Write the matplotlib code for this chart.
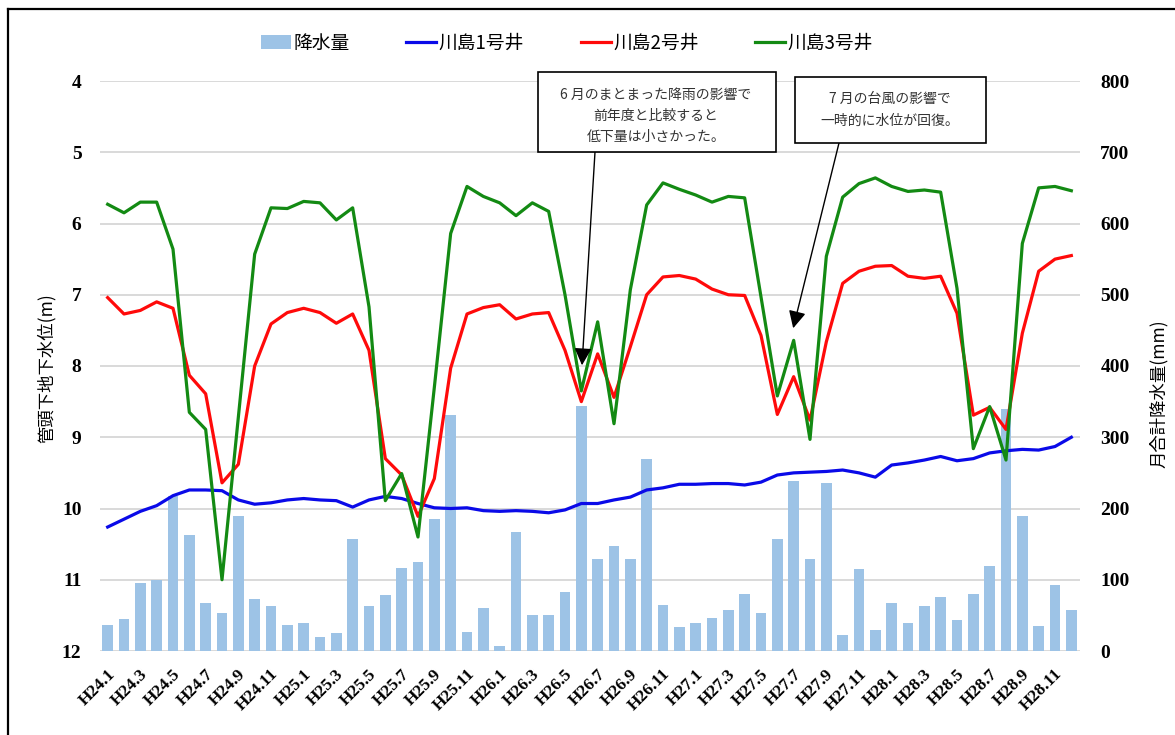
import matplotlib
matplotlib.use('Agg')
import matplotlib.pyplot as plt
from matplotlib.patches import Rectangle, Patch
from matplotlib.lines import Line2D
from matplotlib.transforms import ScaledTranslation
import numpy as np

# ---------------- data ----------------
months = ["H24.1", "H24.2", "H24.3", "H24.4", "H24.5", "H24.6", "H24.7", "H24.8", "H24.9", "H24.10", "H24.11", "H24.12",
          "H25.1", "H25.2", "H25.3", "H25.4", "H25.5", "H25.6", "H25.7", "H25.8", "H25.9", "H25.10", "H25.11", "H25.12",
          "H26.1", "H26.2", "H26.3", "H26.4", "H26.5", "H26.6", "H26.7", "H26.8", "H26.9", "H26.10", "H26.11", "H26.12",
          "H27.1", "H27.2", "H27.3", "H27.4", "H27.5", "H27.6", "H27.7", "H27.8", "H27.9", "H27.10", "H27.11", "H27.12",
          "H28.1", "H28.2", "H28.3", "H28.4", "H28.5", "H28.6", "H28.7", "H28.8", "H28.9", "H28.10", "H28.11", "H28.12"]

rain = [36, 45, 95, 100, 217, 163, 68, 53, 189, 73, 63, 36,
        39, 20, 25, 157, 63, 78, 116, 125, 185, 331, 27, 61,
        7.5, 167, 51, 51, 83, 344, 129, 148, 129, 270, 65, 34,
        39, 46, 58, 80, 53, 157, 239, 129, 236, 23, 115, 30,
        68, 40, 63, 76, 44, 80, 120, 340, 189, 35, 93, 58]

well1 = [10.26, 10.15, 10.04, 9.96, 9.82, 9.74, 9.74, 9.75, 9.88, 9.94, 9.92, 9.88,
         9.86, 9.88, 9.89, 9.98, 9.88, 9.83, 9.86, 9.93, 9.99, 10.00, 9.99, 10.03,
         10.04, 10.03, 10.04, 10.06, 10.02, 9.93, 9.93, 9.88, 9.84, 9.74, 9.71, 9.66,
         9.66, 9.65, 9.65, 9.67, 9.63, 9.53, 9.50, 9.49, 9.48, 9.46, 9.50, 9.56,
         9.39, 9.36, 9.32, 9.27, 9.33, 9.30, 9.22, 9.19, 9.17, 9.18, 9.13, 9.00]

well2 = [7.04, 7.27, 7.22, 7.10, 7.19, 8.13, 8.39, 9.64, 9.38, 8.00, 7.41, 7.25,
         7.19, 7.25, 7.40, 7.27, 7.78, 9.30, 9.53, 10.11, 9.58, 8.03, 7.27, 7.18,
         7.14, 7.34, 7.27, 7.25, 7.78, 8.50, 7.83, 8.44, 7.73, 7.00, 6.75, 6.73,
         6.78, 6.92, 7.00, 7.01, 7.57, 8.68, 8.15, 8.76, 7.66, 6.84, 6.67, 6.60,
         6.59, 6.74, 6.77, 6.74, 7.26, 8.69, 8.58, 8.89, 7.54, 6.67, 6.50, 6.45]

well3 = [5.73, 5.85, 5.70, 5.70, 6.36, 8.65, 8.89, 11.00, 8.72, 6.43, 5.78, 5.79,
         5.69, 5.71, 5.95, 5.78, 7.17, 9.89, 9.51, 10.40, 8.30, 6.14, 5.48, 5.62,
         5.71, 5.89, 5.71, 5.83, 7.00, 8.35, 7.38, 8.81, 6.93, 5.74, 5.43, 5.52,
         5.60, 5.70, 5.62, 5.64, 7.03, 8.42, 7.64, 9.03, 6.46, 5.63, 5.44, 5.36,
         5.48, 5.55, 5.53, 5.56, 6.91, 9.16, 8.57, 9.32, 6.28, 5.50, 5.48, 5.54]

series_names = ["降水量", "川島1号井", "川島2号井", "川島3号井"]
left_ticks = [4, 5, 6, 7, 8, 9, 10, 11, 12]
right_ticks = [0, 100, 200, 300, 400, 500, 600, 700, 800]
left_label = "管頭下地下水位(m)"
right_label = "月合計降水量(mm)"
note1 = ["6 月のまとまった降雨の影響で", "前年度と比較すると", "低下量は小さかった。"]
note2 = ["7 月の台風の影響で", "一時的に水位が回復。"]

# ---------------- style ----------------
plt.rcParams['font.family'] = ['Noto Sans CJK JP', 'DejaVu Sans']
C_BAR = '#9DC3E6'
C_B = '#0A0AE8'
C_R = '#FF0A0A'
C_G = '#138A13'
GRID = '#D9D9D9'
SERIF = 'Liberation Serif'

W, H = 1175, 735
fig = plt.figure(figsize=(W / 100, H / 100), dpi=100)
fig.patch.set_facecolor('white')

L, R, T, B = 99.5, 1079.5, 81, 651
ax = fig.add_axes([L / W, 1 - B / H, (R - L) / W, (B - T) / H])
ax2 = ax.twinx()
ax.set_zorder(ax2.get_zorder() + 1)
ax.patch.set_visible(False)

x = np.arange(len(months))

# bars on the right axis
ax2.set_axisbelow(True)
ax2.bar(x, rain, width=0.66, color=C_BAR, zorder=2)
ax2.set_ylim(0, 800)
ax2.set_yticks(right_ticks)
ax2.yaxis.grid(True, color=GRID, lw=1.4, zorder=0)

# lines on the left axis (inverted)
ax.plot(x, well1, color=C_B, lw=2.3, solid_joinstyle='round')
ax.plot(x, well2, color=C_R, lw=2.3, solid_joinstyle='round')
ax.plot(x, well3, color=C_G, lw=2.3, solid_joinstyle='round')
ax.set_ylim(12, 4)
ax.set_yticks(left_ticks)
ax.set_xlim(-0.5, len(months) - 0.5)

for a in (ax, ax2):
    for s in a.spines.values():
        s.set_visible(False)
    a.tick_params(length=0)

ax.set_xticks(x[::2])
ax.set_xticklabels(months[::2], rotation=45, ha='right', va='center',
                   rotation_mode='anchor', fontfamily=SERIF, fontweight='bold', fontsize=12.5)
ax.tick_params(axis='x', pad=15)
off = ScaledTranslation(5 / 100, 0, fig.dpi_scale_trans)
for lab in ax.get_xticklabels():
    lab.set_transform(lab.get_transform() + off)

ax.tick_params(axis='y', pad=13)
for lab in ax.get_yticklabels():
    lab.set_fontfamily(SERIF)
    lab.set_fontweight('bold')
    lab.set_fontsize(14)
ax2.tick_params(axis='y', pad=15)
for lab in ax2.get_yticklabels():
    lab.set_fontfamily(SERIF)
    lab.set_fontweight('bold')
    lab.set_fontsize(14)

# axis titles
fig.text(47 / W, 1 - 368 / H, left_label, rotation=90, ha='center', va='center', fontsize=12.5)
fig.text(1159 / W, 1 - 394 / H, right_label, rotation=90, ha='center', va='center', fontsize=12.5)

# legend
handles = [Patch(facecolor=C_BAR, edgecolor='none'),
           Line2D([], [], color=C_B, lw=2.3),
           Line2D([], [], color=C_R, lw=2.3),
           Line2D([], [], color=C_G, lw=2.3)]
fig.legend(handles, series_names, loc='center', bbox_to_anchor=(567 / W, 1 - 43 / H), ncol=4,
           frameon=False, fontsize=13.5, handlelength=1.6, handletextpad=0.15, columnspacing=3.0)

# annotation boxes
def box(x0, y0, x1, y1):
    fig.add_artist(Rectangle((x0 / W, 1 - y1 / H), (x1 - x0) / W, (y1 - y0) / H,
                             transform=fig.transFigure, facecolor='white', edgecolor='black',
                             lw=1.2, zorder=5))

box(538, 72, 776, 152)
for txt, yy in zip(note1, [95, 116, 137]):
    fig.text(656 / W, 1 - yy / H, txt, ha='center', va='center', fontsize=10, color='#333333', zorder=6)
box(795, 77, 986, 143)
for txt, yy in zip(note2, [99, 121]):
    fig.text(890 / W, 1 - yy / H, txt, ha='center', va='center', fontsize=10, color='#333333', zorder=6)

ap = dict(arrowstyle='-|>,head_length=0.7,head_width=0.35', mutation_scale=15,
          lw=1.0, color='black', shrinkA=0, shrinkB=0)
ax.annotate('', xy=(29.04, 7.99), xycoords='data', xytext=(595 / W, 1 - 152 / H),
            textcoords='figure fraction', arrowprops=ap, zorder=7)
ax.annotate('', xy=(41.97, 7.47), xycoords='data', xytext=(839 / W, 1 - 143 / H),
            textcoords='figure fraction', arrowprops=ap, zorder=7)

# outer frame (left and top edges)
fig.add_artist(Line2D([8 / W, 8 / W], [0, 1 - 9 / H], transform=fig.transFigure, color='black', lw=1.6))
fig.add_artist(Line2D([8 / W, 1], [1 - 9 / H, 1 - 9 / H], transform=fig.transFigure, color='black', lw=1.6))

fig.savefig('out.png', dpi=100, facecolor='white')
